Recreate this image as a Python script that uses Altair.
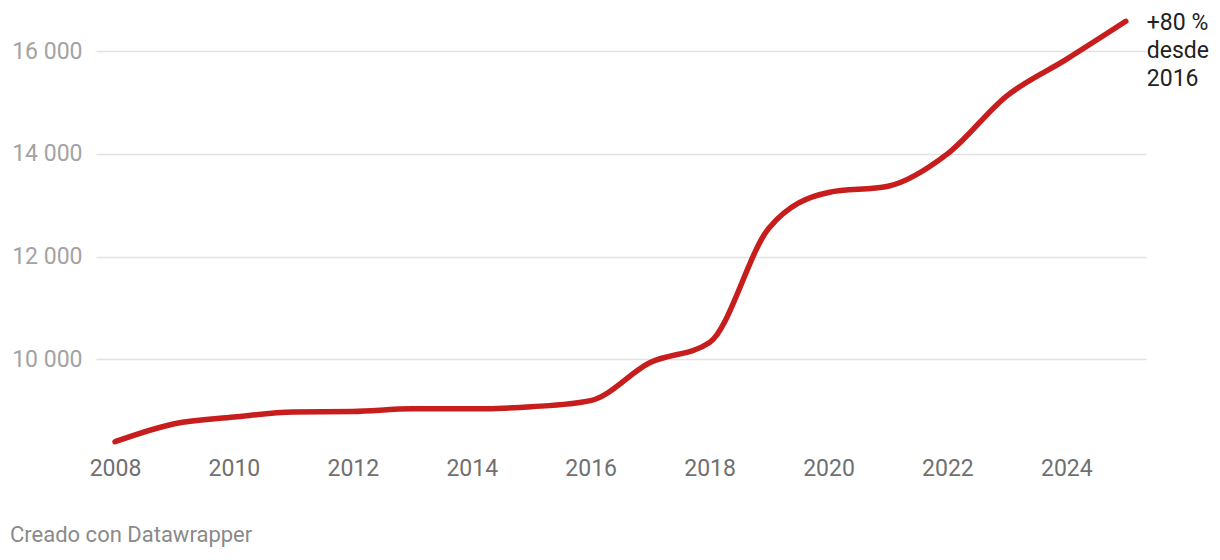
import altair as alt
import pandas as pd

years = [2008, 2009, 2010, 2011, 2012, 2013, 2014, 2015, 2016,
         2017, 2018, 2019, 2020, 2021, 2022, 2023, 2024, 2025]
values = [8400, 8750, 8880, 8980, 8990, 9040, 9040, 9080, 9200,
          9940, 10330, 12560, 13250, 13370, 14000, 15130, 15840, 16580]
y_ticks = [10000, 12000, 14000, 16000]
x_ticks = [2008, 2010, 2012, 2014, 2016, 2018, 2020, 2022, 2024]
annotation = ["+80 %", "desde", "2016"]
footer = "Creado con Datawrapper"

df = pd.DataFrame({"year": years, "value": values})
last = df.tail(1).assign(label=[annotation])

FONT = "Roboto"

x = alt.X("year:Q", scale=alt.Scale(domain=[2007.68, 2025.34], nice=False, zero=False),
          axis=alt.Axis(values=x_ticks, format="d", title=None, grid=False, domain=False,
                        ticks=False, labelFont=FONT, labelFontSize=23, labelColor="#707070",
                        labelPadding=5, labelFlush=False))
y = alt.Y("value:Q", scale=alt.Scale(domain=[8200, 16800], nice=False, zero=False),
          axis=alt.Axis(values=y_ticks, title=None, grid=True, gridColor="#e2e2e2",
                        gridWidth=1.5, domain=False, ticks=False, labelFont=FONT,
                        labelFontSize=23, labelColor="#a3a3a3", labelPadding=14,
                        labelExpr="replace(format(datum.value, ','), ',', ' ')"))

line = alt.Chart(df).mark_line(color="#c71e1d", strokeWidth=5.5, strokeCap="round",
                               interpolate="monotone").encode(x=x, y=y)

label = alt.Chart(last).mark_text(align="left", baseline="top", dx=21, dy=-9,
                                  font=FONT, fontSize=23, color="#222222",
                                  lineHeight=28).encode(
    x="year:Q", y="value:Q", text="label")

foot = alt.Chart(pd.DataFrame({"t": [footer]})).mark_text(
    align="left", baseline="middle", font=FONT, fontSize=22, color="#8a8a8a").encode(
    x=alt.value(-86), y=alt.value(525), text="t:N")

chart = alt.layer(line, label, foot).properties(
    width=1050, height=442,
    autosize=alt.AutoSizeParams(type="none"),
    padding={"left": 88, "top": 2, "right": 66, "bottom": 100},
).configure(background="white", view=alt.ViewConfig(stroke=None))

chart.save("out.html", embed_options={"renderer": "svg", "actions": False})
